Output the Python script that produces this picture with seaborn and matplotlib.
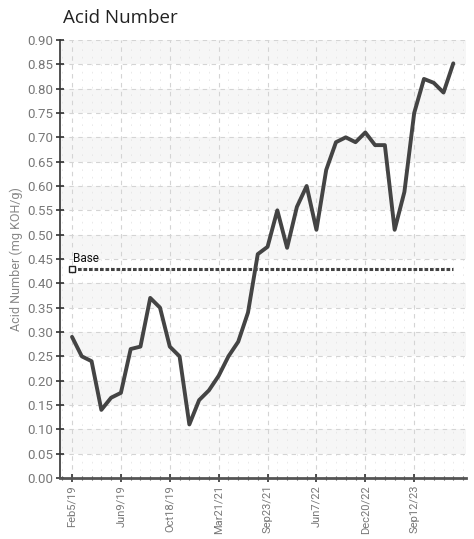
import matplotlib
matplotlib.use("Agg")
import matplotlib.pyplot as plt
import seaborn as sns
import numpy as np
import pandas as pd
from matplotlib.ticker import MultipleLocator, FixedLocator, FixedFormatter

acid_number = [0.29, 0.25, 0.24, 0.14, 0.165, 0.175, 0.265, 0.27, 0.37, 0.35,
               0.27, 0.25, 0.11, 0.16, 0.18, 0.21, 0.25, 0.28, 0.34, 0.46,
               0.475, 0.55, 0.473, 0.557, 0.60, 0.51, 0.633, 0.69, 0.70, 0.69,
               0.71, 0.684, 0.684, 0.51, 0.588, 0.75, 0.82, 0.812, 0.792, 0.852]
tick_labels = ["Feb5/19", "Jun9/19", "Oct18/19", "Mar21/21", "Sep23/21",
               "Jun7/22", "Dec20/22", "Sep12/23"]
base_value = 0.43

df = pd.DataFrame({"sample": np.arange(len(acid_number)), "value": acid_number})

sns.set_style("white")
plt.rcParams['font.family'] = ['Roboto', 'DejaVu Sans']

fig = plt.figure(figsize=(4.74, 5.39), dpi=100)
ax = fig.add_axes([60/474, (539-478)/539, (466-60)/474, (478-40)/539])

# alternating bands
for lo in np.arange(0.05, 0.9, 0.10):
    ax.axhspan(lo, lo + 0.05, color="#f6f6f6", zorder=0, lw=0)

sns.lineplot(data=df, x="sample", y="value", ax=ax, color="#444444",
             linewidth=2.8, zorder=5)

n = len(acid_number)
ax.plot([0, n - 1], [base_value, base_value], color="#444444", lw=2.2,
        ls=(0, (1.2, 0.6)), zorder=4)
ax.plot([0], [base_value], marker="s", ms=4, mfc="white", mec="#222222",
        mew=1, zorder=6, clip_on=False)
ax.text(0.1, base_value + 0.007, "Base", fontsize=8.5, color="#111111",
        ha="left", va="bottom", zorder=6)

ax.set_xlim(-1.23, 40.3)
ax.set_ylim(0, 0.9)
ax.yaxis.set_major_locator(MultipleLocator(0.05))
ax.yaxis.set_major_formatter(matplotlib.ticker.FormatStrFormatter("%.2f"))
ax.xaxis.set_major_locator(FixedLocator(list(range(0, 40, 5))))
ax.xaxis.set_major_formatter(FixedFormatter(tick_labels))
ax.xaxis.set_minor_locator(MultipleLocator(1))

ax.grid(True, which="major", axis="both", color="#d4d4d4", ls=(0, (4, 4)), lw=0.8)
ax.grid(True, which="minor", axis="x", color="#e6e6e6", ls=(0, (2, 7)), lw=0.6)
ax.set_axisbelow(True)

for s in ["top", "right"]:
    ax.spines[s].set_visible(False)
ax.spines["left"].set_color("#333333")
ax.spines["left"].set_linewidth(1.2)
ax.spines["bottom"].set_color("#555555")
ax.spines["bottom"].set_linewidth(2)

ax.tick_params(axis="y", which="major", direction="inout", length=6, width=1.2,
               color="#333333", labelsize=9.5, labelcolor="#777777", pad=2, left=True)
ax.tick_params(axis="x", which="major", direction="inout", length=6, width=1.2,
               color="#333333", labelsize=8, labelcolor="#777777", pad=2,
               labelrotation=90, bottom=True)
ax.tick_params(axis="x", which="minor", direction="inout", length=3, width=0.8,
               color="#555555", bottom=True)

ax.set_xlabel("")
ax.set_ylabel("Acid Number (mg KOH/g)", fontsize=9, color="#888888", labelpad=3)

fig.text(63/474, 1 - 18/539, "Acid Number", fontsize=13.5, color="#222222",
         ha="left", va="center", family=["Open Sans", "DejaVu Sans"])

fig.savefig("out.png", dpi=100)
